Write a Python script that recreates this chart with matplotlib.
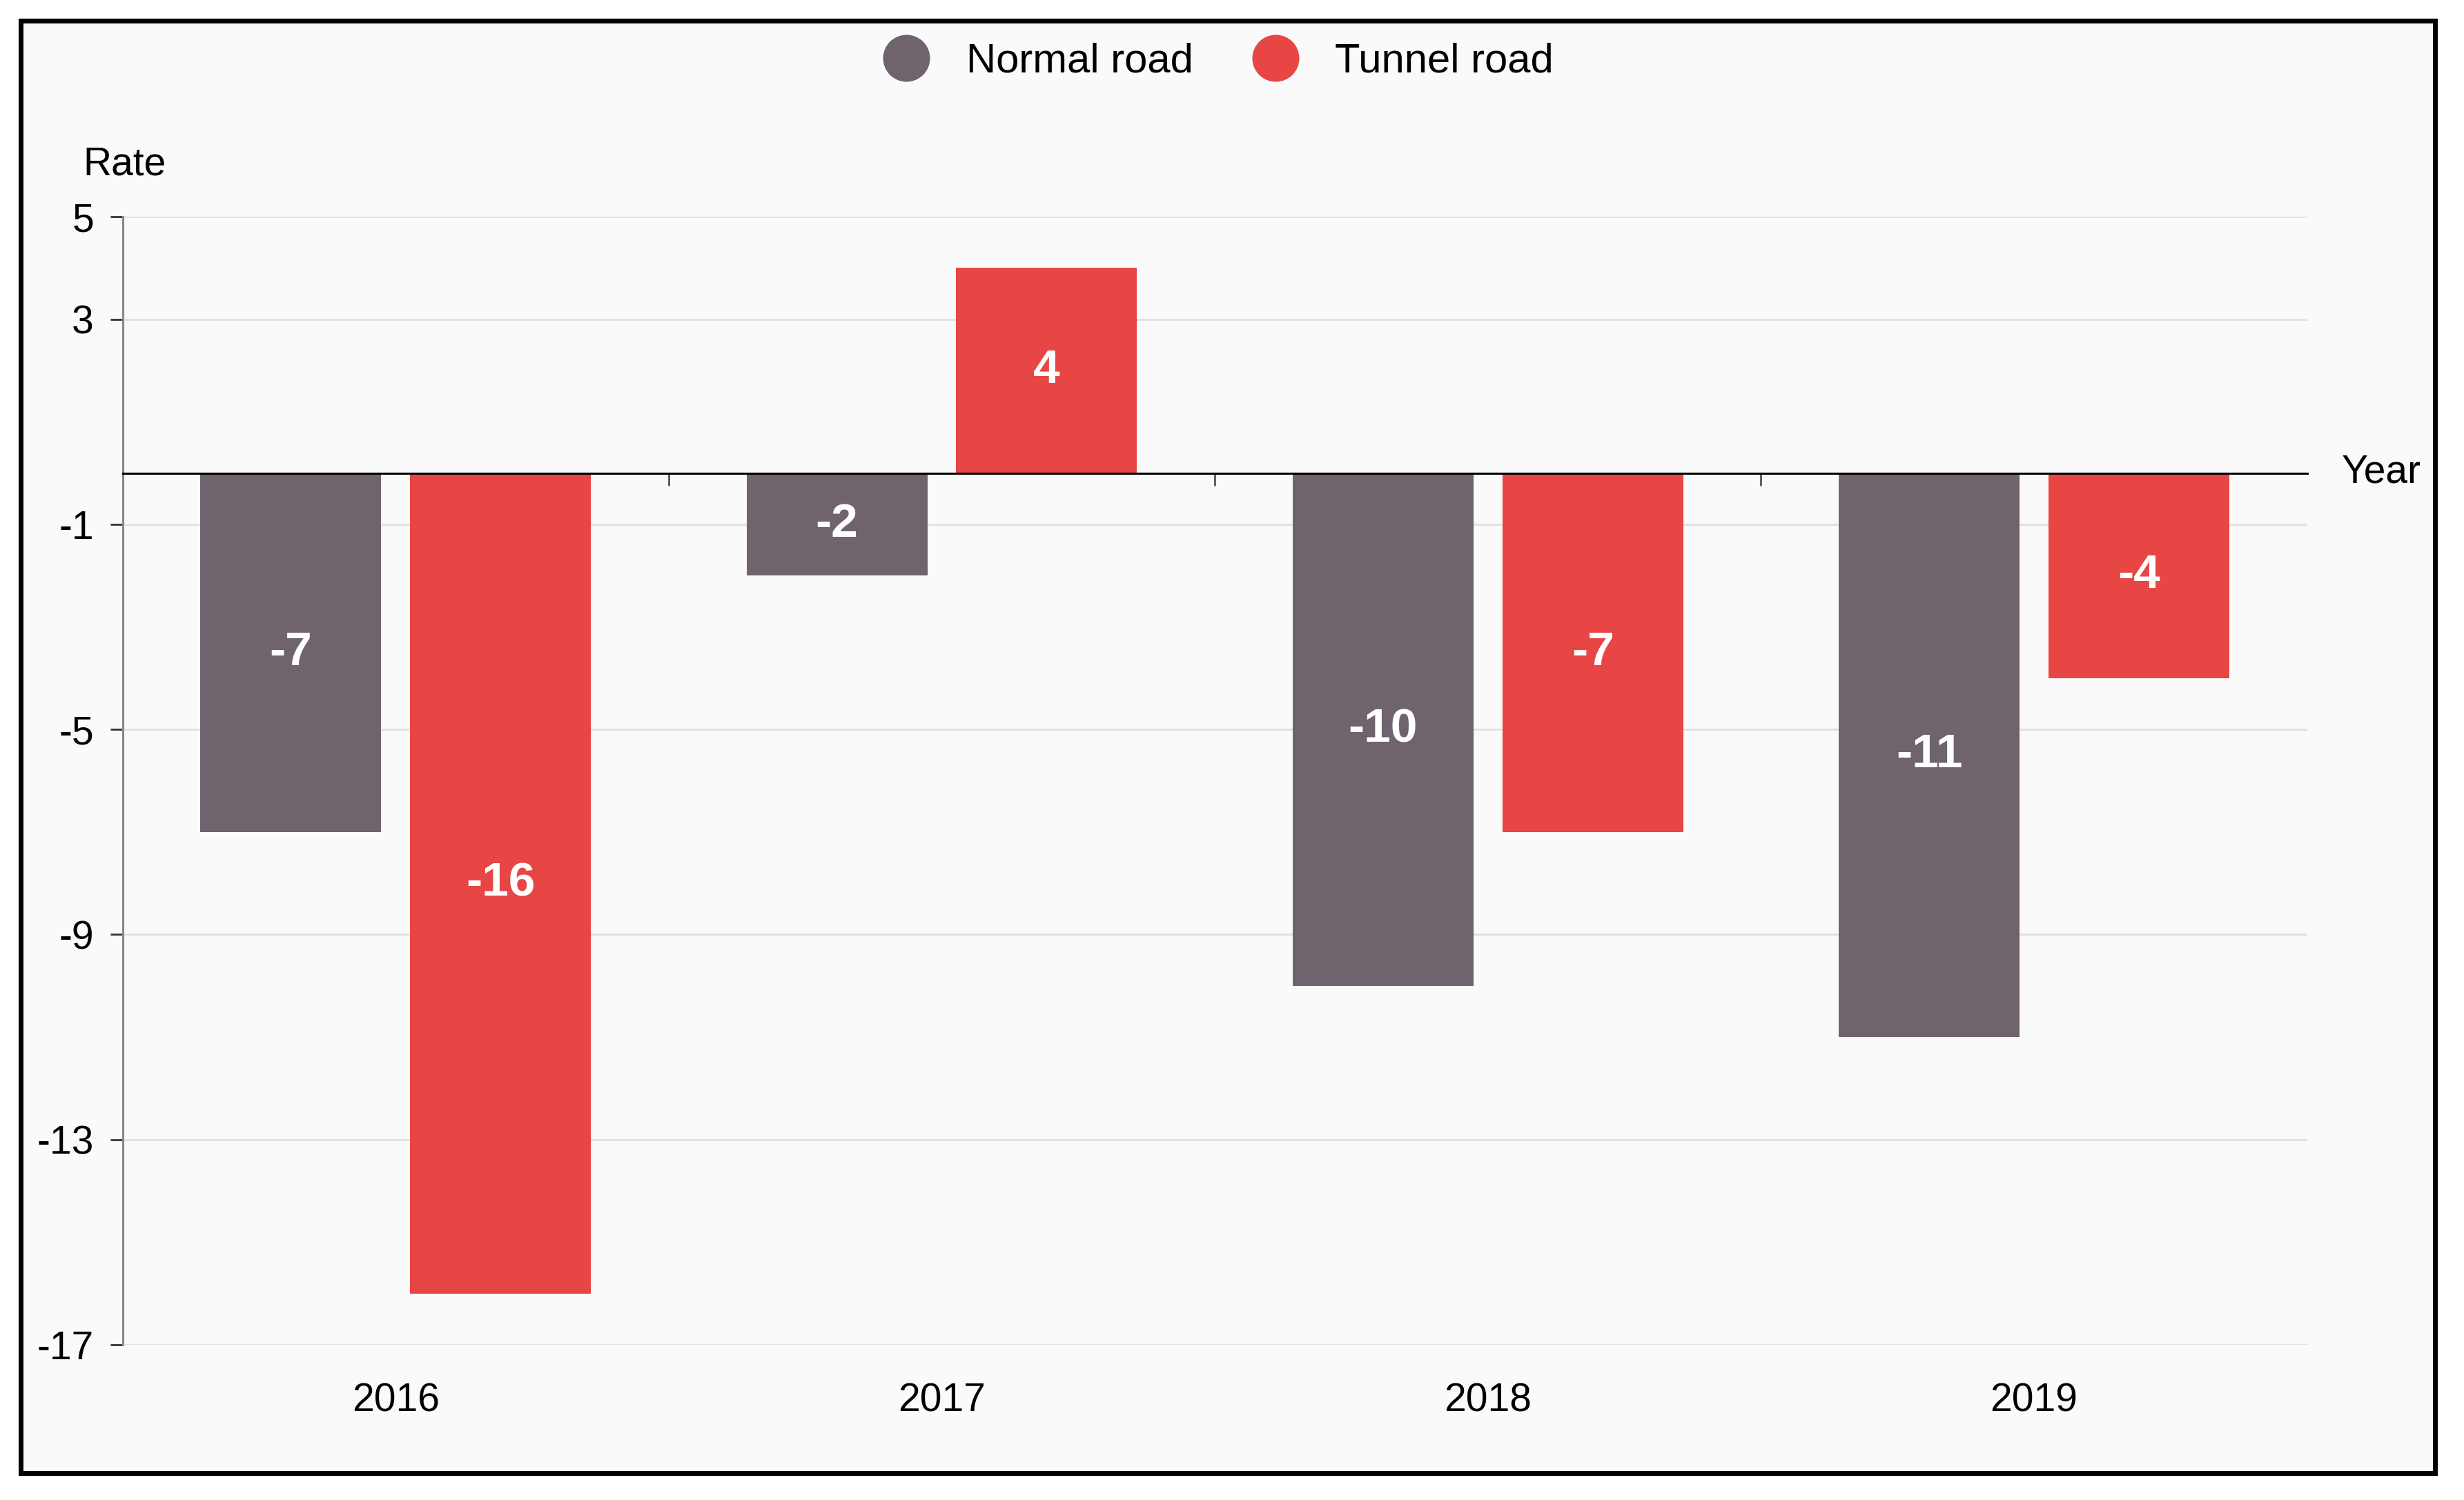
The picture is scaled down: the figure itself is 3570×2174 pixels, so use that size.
import matplotlib
matplotlib.use("Agg")
import matplotlib.pyplot as plt
import matplotlib.transforms as mtransforms
from matplotlib.patches import Rectangle
from matplotlib.lines import Line2D
import numpy as np

plt.rcParams['font.family'] = ['Liberation Sans', 'DejaVu Sans']

years = ["2016", "2017", "2018", "2019"]
series_names = ["Normal road", "Tunnel road"]
normal_road = [-7, -2, -10, -11]
tunnel_road = [-16, 4, -7, -4]
y_ticks = [5, 3, -1, -5, -9, -13, -17]
colors = ["#6F646E", "#E84545"]

W, H = 3570, 2174
dpi = 100
fig = plt.figure(figsize=(W / dpi, H / dpi), dpi=dpi, facecolor="white")

# outer frame with light background
frame = Rectangle((30 / W, (H - 2135) / H), (3528 - 30) / W, (2135 - 30) / H,
                  transform=fig.transFigure, facecolor="#FAFAFA",
                  edgecolor="black", linewidth=5, zorder=-10)
fig.add_artist(frame)

left, right = 177.6 / W, 3342.6 / W
top_px, bot_px = 314, 1949
ax = fig.add_axes([left, 1 - bot_px / H, right - left, (bot_px - top_px) / H])
ax.set_facecolor("none")

x = np.arange(len(years))
bw = 0.331
off = 0.192
b1 = ax.bar(x - off, normal_road, width=bw, color=colors[0], zorder=2)
b2 = ax.bar(x + off, tunnel_road, width=bw, color=colors[1], zorder=2)

for bars, vals in ((b1, normal_road), (b2, tunnel_road)):
    for rect, v in zip(bars, vals):
        ax.text(rect.get_x() + rect.get_width() / 2, v / 2, f"{v}",
                ha="center", va="center", color="white",
                fontsize=50, fontweight="bold", zorder=4)

ax.set_xlim(-0.5, len(years) - 0.5)
ax.set_ylim(-17, 5)

# y axis
ax.set_yticks(y_ticks)
ax.set_yticklabels([str(t) for t in y_ticks])
ax.tick_params(axis="y", length=13, width=2, color="#333333", pad=17,
               labelsize=41, labelcolor="black")
ax.yaxis.grid(True, color="#E2E2E2", linewidth=2.2, zorder=0)
ax.set_axisbelow(True)

# spines
for s in ("top", "right"):
    ax.spines[s].set_visible(False)
ax.spines["left"].set_color("#888888")
ax.spines["left"].set_linewidth(2.2)
ax.spines["bottom"].set_position(("data", 0))
ax.spines["bottom"].set_color("black")
ax.spines["bottom"].set_linewidth(2.2)
ax.spines["bottom"].set_zorder(3)

# x ticks: boundaries as minor ticks on zero line, labels at the bottom
ax.set_xticks([])
ax.set_xticks(x[:-1] + 0.5, minor=True)
ax.tick_params(axis="x", which="minor", length=13, width=2, color="#555555",
               direction="out")
trans = mtransforms.blended_transform_factory(ax.transData, ax.transAxes)
for xi, lab in zip(x, years):
    ax.text(xi, -0.05, lab, transform=trans, ha="center", va="center",
            fontsize=41, color="black")

# axis titles
fig.text(180 / W, 1 - 239 / H, "Rate", ha="center",
         va="center", fontsize=41, color="black")
fig.text(3393 / W, 1 - 685 / H, "Year", ha="left",
         va="center", fontsize=41, color="black")

# legend
handles = [Line2D([0], [0], marker="o", linestyle="none", markersize=48,
                  markerfacecolor=c, markeredgecolor=c) for c in colors]
fig.legend(handles, series_names, loc="center", ncol=2,
           bbox_to_anchor=(0.4950, 1 - 89 / H), frameon=False,
           fontsize=43, handlelength=1.0, handletextpad=0.95,
           columnspacing=1.5)

fig.savefig("out.png", dpi=dpi, facecolor="white")
